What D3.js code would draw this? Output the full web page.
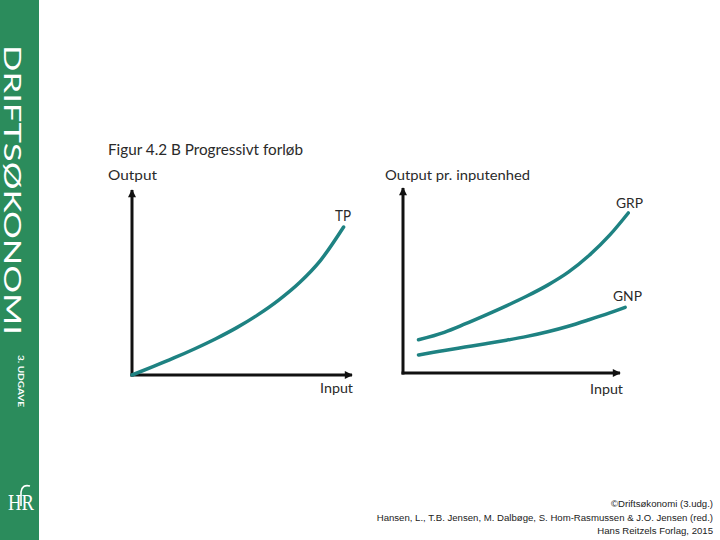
<!DOCTYPE html>
<html><head><meta charset="utf-8">
<script src="https://cdn.jsdelivr.net/npm/d3@7"></script>
<style>body{margin:0;background:#fff}svg{display:block}</style>
</head><body>
<script>
// ---- data ----
const tpInput = [0,1,2,3,4,5,6,7,8,9,10.1];
const tpValues = [0,4.5,9.2,14.2,19.6,25.6,32.5,40.5,50,62,80];
const grpInput = [0.75,2,3,4,5,6,7,8,9,10,10.9];
const grpValues = [18,22,26.5,31.3,36.3,41.6,47.5,54.5,63.5,74.5,86.5];
const gnpInput = [0.75,2,3,4,5,6,7,8,9,10,10.75];
const gnpValues = [9.7,12.2,14,15.8,17.7,19.8,22.3,25.3,28.8,32.5,35.5];
const title = "Figur 4.2 B Progressivt forløb";
const leftYLabel = "Output", rightYLabel = "Output pr. inputenhed", xLabel = "Input";
const seriesLabels = ["TP","GRP","GNP"];
const creditLines = ["©Driftsøkonomi (3.udg.)",
 "Hansen, L., T.B. Jensen, M. Dalbøge, S. Hom-Rasmussen & J.O. Jensen (red.)",
 "Hans Reitzels Forlag, 2015"];

const W=720,H=540;
const svg=d3.select("body").append("svg").attr("width",W).attr("height",H);
const green="#2b8c5c", teal="#1e8282", font="Lato, 'Open Sans', sans-serif";

// sidebar
svg.append("rect").attr("x",0).attr("y",0).attr("width",39).attr("height",H).attr("fill",green);
svg.append("text").attr("transform","translate(4,45) rotate(90)")
  .attr("font-family",font).attr("font-weight",400).attr("font-size",23).attr("fill","#fff")
  .attr("textLength",290).attr("lengthAdjust","spacingAndGlyphs").text("DRIFTSØKONOMI");
svg.append("text").attr("transform","translate(17.5,355) rotate(90)")
  .attr("font-family",font).attr("font-weight",700).attr("font-size",7.5).attr("fill","#fff")
  .attr("textLength",52).attr("lengthAdjust","spacingAndGlyphs").text("3. UDGAVE");
svg.append("text").attr("x",21).attr("y",510).attr("text-anchor","middle")
  .attr("font-family","'Liberation Serif', serif").attr("font-size",24).attr("fill","#fff")
  .attr("textLength",26).attr("lengthAdjust","spacingAndGlyphs").text("HR");
svg.append("path").attr("d","M21,506 L21,492 Q22,484 30,486").attr("fill","none").attr("stroke","#fff").attr("stroke-width",1.6);

const defs=svg.append("defs");
defs.append("marker").attr("id","arr").attr("viewBox","0 0 10 10").attr("refX",9).attr("refY",5)
 .attr("markerWidth",10).attr("markerHeight",8).attr("markerUnits","userSpaceOnUse").attr("orient","auto")
 .append("path").attr("d","M0,0 L10,5 L0,10 Z").attr("fill","#111");

function panel(x0,x1,yTop,yBase,xMax){
  const x=d3.scaleLinear().domain([0,xMax]).range([x0,x1]);
  const y=d3.scaleLinear().domain([0,100]).range([yBase,yTop]);
  return {x,y};
}
const L=panel(132,352,190,375,10.5);
const R=panel(403,620,188,373,10.5);

function axes(p){
  const g=svg.append("g");
  g.append("line").attr("x1",p.x(0)).attr("y1",p.y(0)+1.5).attr("x2",p.x(0)).attr("y2",p.y(100))
   .attr("stroke","#111").attr("stroke-width",3).attr("marker-end","url(#arr)");
  g.append("line").attr("x1",p.x(0)-1.5).attr("y1",p.y(0)).attr("x2",p.x(10.5)).attr("y2",p.y(0))
   .attr("stroke","#111").attr("stroke-width",3).attr("marker-end","url(#arr)");
}
axes(L); axes(R);

function curve(p,xs,ys){
  const line=d3.line().x(d=>p.x(d[0])).y(d=>p.y(d[1])).curve(d3.curveMonotoneX);
  svg.append("path").attr("d",line(xs.map((v,i)=>[v,ys[i]])))
   .attr("fill","none").attr("stroke",teal).attr("stroke-width",3.5).attr("stroke-linecap","round");
}
curve(L,tpInput,tpValues);
curve(R,grpInput,grpValues);
curve(R,gnpInput,gnpValues);

function txt(x,y,s,size,len){
  const t=svg.append("text").attr("x",x).attr("y",y).attr("font-family",font).attr("font-size",size)
   .attr("fill","#2a2a2a").text(s);
  if(len) t.attr("textLength",len).attr("lengthAdjust","spacingAndGlyphs");
  return t;
}
txt(108,155,title,16,195);
txt(108,180,leftYLabel,13.5,49);
txt(385,180,rightYLabel,13.5,145);
txt(335,221,seriesLabels[0],15,16);
txt(616,208,seriesLabels[1],14,27);
txt(613,301,seriesLabels[2],13.5,29);
txt(320,393,xLabel,13,33);
txt(590,394,xLabel,13,33);

creditLines.forEach((s,i)=>{
  svg.append("text").attr("x",713).attr("y",507+i*13.5).attr("text-anchor","end")
   .attr("font-family","'Liberation Sans', Arial, sans-serif").attr("font-size",9.6).attr("fill","#222").text(s);
});
</script>
</body></html>
